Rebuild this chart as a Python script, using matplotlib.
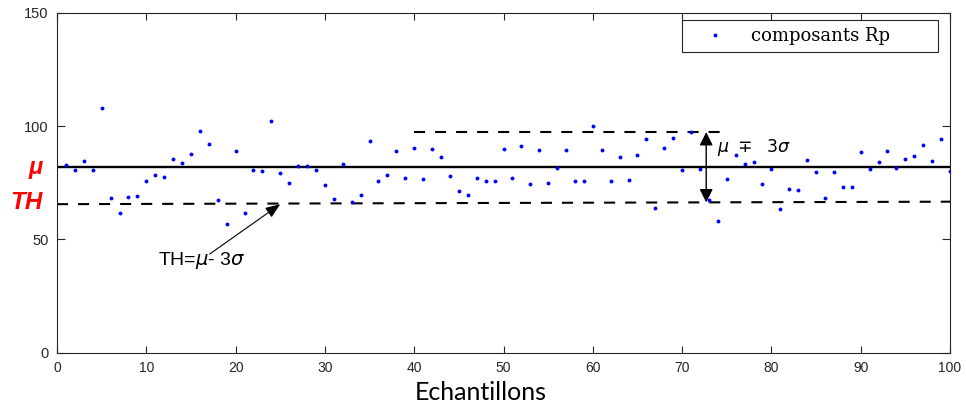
import numpy as np
import matplotlib
matplotlib.use('Agg')
import matplotlib.pyplot as plt

# composants Rp, one value per sample
samples = np.arange(1, 101)
rp = [82.7, 80.8, 84.4, 80.8, 107.8, 68.3, 61.4, 68.5, 69.1, 75.7,
      78.2, 77.6, 85.3, 83.8, 87.5, 97.6, 92.2, 67.2, 56.7, 88.9,
      61.6, 80.5, 80.2, 102.2, 79.2, 74.8, 82.4, 82.4, 80.5, 73.8,
      67.8, 83.1, 66.4, 69.7, 93.2, 75.7, 78.5, 88.8, 76.9, 90.1,
      76.4, 89.9, 86.1, 77.8, 71.3, 69.4, 77.2, 75.6, 75.8, 89.7,
      76.9, 91.3, 74.5, 89.5, 74.7, 81.6, 89.5, 75.8, 75.6, 100.0,
      89.4, 75.6, 86.4, 76.3, 87.0, 94.1, 63.9, 90.3, 94.5, 80.4,
      97.3, 81.1, 67.4, 58.0, 76.6, 87.0, 83.1, 84.1, 74.2, 81.1,
      63.5, 72.3, 71.7, 85.1, 79.8, 68.3, 79.8, 72.9, 73.2, 88.5,
      81.0, 83.9, 88.8, 81.6, 85.3, 86.7, 91.6, 84.6, 94.1, 80.2]

mu = 81.9
th_ends = [65.5, 66.6]       # TH line at x=0 and x=100
upper = 97.3                 # mu + 3 sigma
upper_span = [40, 74.6]
arrow_x = 72.7
th_arrow_tip = (25, 65.5)
th_arrow_tail = (17.1, 43.5)

xticks = [0, 10, 20, 30, 40, 50, 60, 70, 80, 90, 100]
yticks = [0, 50, 100, 150]

gray = '#262626'

fig = plt.figure(figsize=(9.66, 4.07), dpi=100)
ax = fig.add_axes([57 / 966, 54.4 / 407, 893 / 966, 339.9 / 407])

ax.plot(samples, rp, 'o', color='blue', markersize=2.8, markeredgewidth=0,
        label='composants Rp', zorder=3)

ax.axhline(mu, color='black', lw=1.7, zorder=2)
ax.plot([0, 100], th_ends, color='black', lw=1.5, ls=(0, (5.3, 4.8)), zorder=2)
ax.plot(upper_span, [upper, upper], color='black', lw=1.5, ls=(0, (5.3, 4.8)), zorder=2)

# double arrow mu -/+ 3 sigma
th_at_arrow = th_ends[0] + (th_ends[1] - th_ends[0]) * arrow_x / 100
ax.annotate('', xy=(arrow_x, th_at_arrow), xytext=(arrow_x, upper),
            arrowprops=dict(arrowstyle='<|-|>,head_length=0.8,head_width=0.4',
                            color='black', lw=1.0, mutation_scale=10,
                            shrinkA=0, shrinkB=0))
ax.text(73.9, 90.3, r'$\mu\ \mp\ \ 3\sigma$', fontsize=12.5, va='center', ha='left')

# TH annotation
ax.annotate('', xy=th_arrow_tip, xytext=th_arrow_tail,
            arrowprops=dict(arrowstyle='-|>,head_length=0.9,head_width=0.35',
                            color='black', lw=0.8, mutation_scale=10,
                            shrinkA=0, shrinkB=0))
ax.text(16.2, 40.8, r'TH=$\mu$- 3$\sigma$', fontsize=14, family='Liberation Sans',
        ha='center', va='center')

# red labels for mu and TH on the y axis
trans = ax.get_yaxis_transform()
ax.text(-0.0157, mu, 'μ', transform=trans, color='red', fontsize=17,
        fontweight='bold', fontstyle='italic', family='Liberation Sans',
        ha='right', va='center')
ax.text(-0.0157, sum(th_ends) / 2, 'TH', transform=trans, color='red', fontsize=17.5,
        fontweight='bold', fontstyle='italic', family='Liberation Sans',
        ha='right', va='center')

ax.set_xlim(0, 100)
ax.set_ylim(0, 150)
ax.set_xticks(xticks)
ax.set_yticks(yticks)
ax.tick_params(axis='both', direction='in', top=True, right=True,
               colors=gray, width=0.8, labelcolor=gray)
ax.tick_params(axis='x', length=5, labelsize=10, pad=6)
ax.tick_params(axis='y', length=6, labelsize=10.5, pad=6)
for lab in ax.get_xticklabels() + ax.get_yticklabels():
    lab.set_family('Liberation Sans')
for s in ax.spines.values():
    s.set_color(gray)
    s.set_linewidth(0.8)

ax.set_xlabel('Echantillons', fontsize=18, family='Lato', color='black')
ax.xaxis.set_label_coords(0.474, -0.083)

leg = ax.legend(loc='upper left', bbox_to_anchor=(0.700, 0.979, 0.2866, 0),
                mode='expand', borderaxespad=0, fancybox=False, framealpha=1,
                edgecolor=gray, handlelength=2.8, handletextpad=0.6,
                borderpad=0.4, markerscale=1,
                prop={'family': 'DejaVu Serif', 'size': 13})
leg.get_frame().set_linewidth(0.8)

plt.savefig('out.png', dpi=100)
